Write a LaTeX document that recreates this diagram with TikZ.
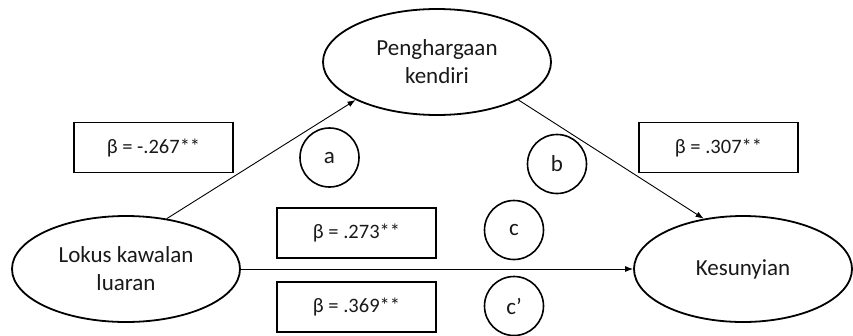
\documentclass[tikz,border=0pt]{standalone}
\usepackage{fontspec}
\setmainfont{Carlito}
\usetikzlibrary{shapes.geometric,arrows.meta}
\begin{document}
\begin{tikzpicture}[x=1pt,y=-1pt,
  var/.style={ellipse,draw,line width=1.8pt,inner sep=0pt,align=center,
    font=\fontsize{23}{28}\selectfont,text=black!90},
  coef/.style={rectangle,draw,line width=1.1pt,minimum width=159pt,minimum height=50pt,
    inner sep=0pt,font=\fontsize{20.5}{24}\selectfont,text=black!90},
  path/.style={circle,draw,line width=1.6pt,minimum size=59pt,inner sep=0pt,
    font=\fontsize{23}{26}\selectfont,text=black!90},
  conn/.style={line width=0.9pt,-{Latex[length=8pt,width=6pt]}}]
\useasboundingbox (0,0) rectangle (853,335);
\node[var,minimum width=228pt,minimum height=106pt] (L) at (126,269) {Lokus kawalan\\luaran};
\node[var,minimum width=228pt,minimum height=106pt] (T) at (437,62) {Penghargaan\\kendiri};
\node[var,minimum width=218pt,minimum height=106pt] (R) at (743,269) {Kesunyian};
\node[coef] (ba) at (153.5,147.5) {β = -.267**};
\node[coef] (bb) at (718.5,147.5) {β = .307**};
\node[coef] (bc) at (356.5,233) {β = .273**};
\node[coef] (bcp) at (356.5,307) {β = .369**};
\node[path] (pa) at (329.5,157.5) {a};
\node[path] (pb) at (557,164) {b};
\node[path] (pc) at (514,230) {c};
\node[path] (pcp) at (514,306) {c’};
\draw[conn] (L.51) -- (T.205);
\draw[conn] (T.-25) -- (R.128);
\draw[conn] (L.east) -- (R.west);
\end{tikzpicture}
\end{document}
